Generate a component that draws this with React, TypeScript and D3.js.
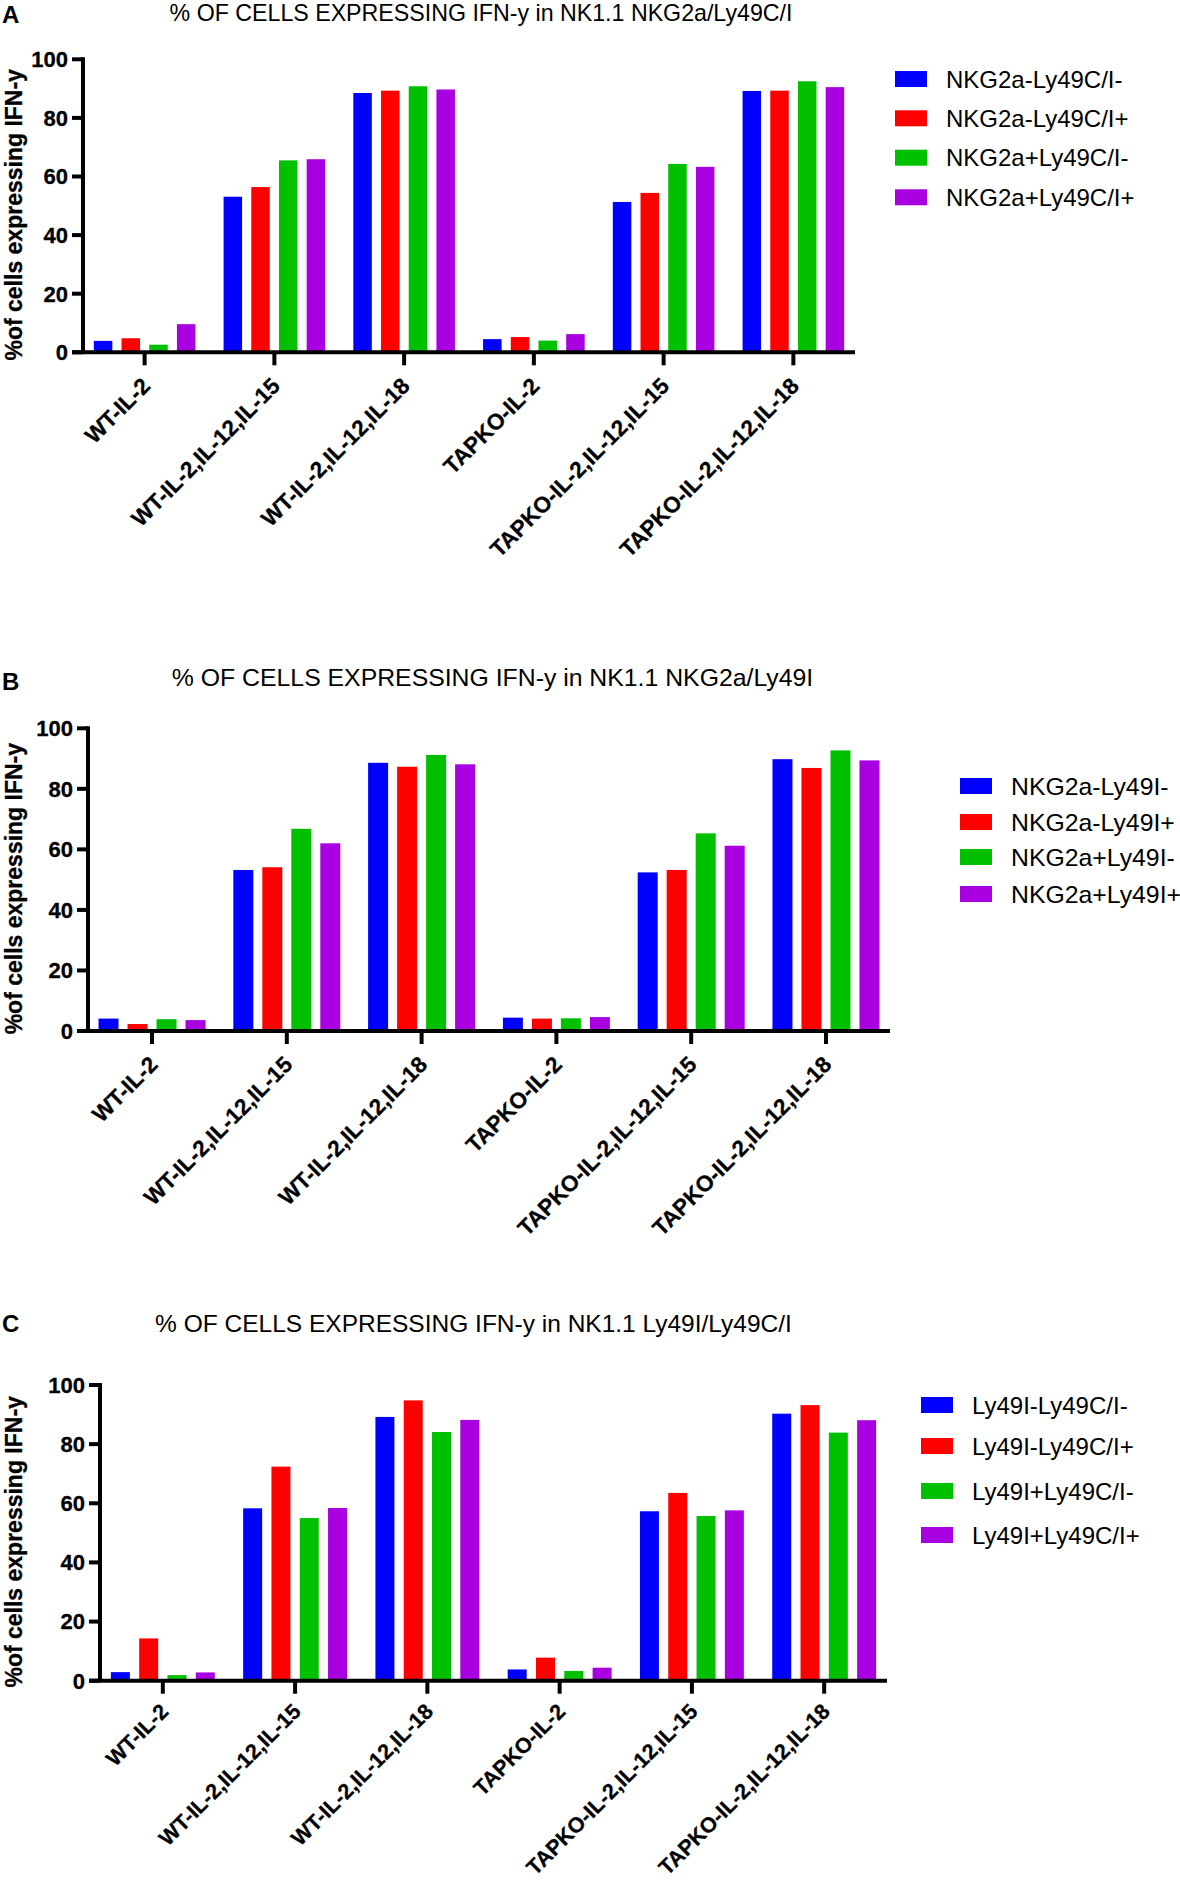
import * as d3 from 'd3';

const groups = [
    'WT-IL-2',
    'WT-IL-2,IL-12,IL-15',
    'WT-IL-2,IL-12,IL-18',
    'TAPKO-IL-2',
    'TAPKO-IL-2,IL-12,IL-15',
    'TAPKO-IL-2,IL-12,IL-18',
];
const yTicks = [0, 20, 40, 60, 80, 100];
const colors = ['#0000FF', '#FF0000', '#00C000', '#A800E0'];

// panel A
const namesA = ['NKG2a-Ly49C/I-', 'NKG2a-Ly49C/I+', 'NKG2a+Ly49C/I-', 'NKG2a+Ly49C/I+'];
const valuesA = [
    [3.9, 53.1, 88.5, 4.5, 51.3, 89.2],
    [4.8, 56.4, 89.3, 5.2, 54.4, 89.3],
    [2.6, 65.5, 90.8, 4.0, 64.3, 92.5],
    [9.6, 65.9, 89.7, 6.2, 63.3, 90.5],
];

// panel B
const namesB = ['NKG2a-Ly49I-', 'NKG2a-Ly49I+', 'NKG2a+Ly49I-', 'NKG2a+Ly49I+'];
const valuesB = [
    [4.1, 53.2, 88.6, 4.4, 52.4, 89.8],
    [2.3, 54.1, 87.3, 4.1, 53.2, 86.9],
    [3.9, 66.8, 91.2, 4.2, 65.3, 92.7],
    [3.6, 62.0, 88.1, 4.6, 61.2, 89.4],
];

// panel C
const namesC = ['Ly49I-Ly49C/I-', 'Ly49I-Ly49C/I+', 'Ly49I+Ly49C/I-', 'Ly49I+Ly49C/I+'];
const valuesC = [
    [2.9, 58.3, 89.2, 3.8, 57.3, 90.3],
    [14.3, 72.4, 94.8, 7.8, 63.5, 93.2],
    [1.9, 55.0, 84.1, 3.3, 55.7, 83.9],
    [2.8, 58.4, 88.2, 4.4, 57.6, 88.1],
];

const FONT = '"Liberation Sans", Arial, Helvetica, sans-serif';

function Panel({ letter, title, names, values, layout }) {
    const {
        left, right, top, bottom, barStep, barWidth,
        titleX, titleY, titleSize, letterY, legendX, legendRows, legendSize,
        labelSize, labelDy,
    } = layout;

    const y = d3.scaleLinear().domain([0, 100]).range([bottom, top]);
    const x = d3.scalePoint().domain(groups).range([left, right]).padding(0.475);
    const span = 3 * barStep + barWidth;
    const sub = d3
        .scaleBand()
        .domain(names)
        .range([-span / 2, span / 2])
        .paddingInner((barStep - barWidth) / barStep)
        .paddingOuter(0);

    return (
        <g>
            <text x={2} y={letterY} fontSize={24} fontWeight="bold" fontFamily={FONT}>{letter}</text>
            <text x={titleX} y={titleY} fontSize={titleSize} textAnchor="middle" fontFamily={FONT}>{title}</text>

            {names.map((n, s) =>
                groups.map((g, i) => (
                    <rect
                        key={n + g}
                        x={x(g) + sub(n)}
                        y={y(values[s][i])}
                        width={sub.bandwidth()}
                        height={y(0) - y(values[s][i])}
                        fill={colors[s]}
                    />
                ))
            )}

            {/* y axis */}
            <line x1={left} x2={left} y1={top - 2} y2={bottom} stroke="#000" strokeWidth={4} />
            {yTicks.map((t) => (
                <g key={t}>
                    <line x1={left - 11} x2={left} y1={y(t)} y2={y(t)} stroke="#000" strokeWidth={4} />
                    <text
                        x={left - 15}
                        y={y(t)}
                        dy="0.36em"
                        textAnchor="end"
                        fontSize={22}
                        fontWeight="bold"
                        fontFamily={FONT}
                        stroke="#000"
                        strokeWidth={0.3}
                    >
                        {t}
                    </text>
                </g>
            ))}
            <text
                transform={`translate(22, ${(top + bottom) / 2 + 9}) rotate(-90)`}
                textAnchor="middle"
                fontSize={23}
                fontWeight="bold"
                fontFamily={FONT}
                stroke="#000"
                strokeWidth={0.3}
            >
                %of cells expressing IFN-y
            </text>

            {/* x axis */}
            <line x1={left - 11} x2={right} y1={bottom} y2={bottom} stroke="#000" strokeWidth={4} />
            {groups.map((g) => (
                <g key={g}>
                    <line x1={x(g)} x2={x(g)} y1={bottom} y2={bottom + 13} stroke="#000" strokeWidth={4} />
                    <text
                        transform={`translate(${x(g) + 7}, ${bottom + labelDy}) rotate(-45)`}
                        textAnchor="end"
                        fontSize={labelSize}
                        fontWeight="bold"
                        fontFamily={FONT}
                        stroke="#000"
                        strokeWidth={0.3}
                    >
                        {g}
                    </text>
                </g>
            ))}

            {/* legend */}
            {names.map((n, s) => (
                <g key={n}>
                    <rect x={legendX} y={legendRows[s] - 8} width={32} height={16} fill={colors[s]} />
                    <text x={legendX + 51} y={legendRows[s] + 8.5} fontSize={legendSize} fontFamily={FONT}>{n}</text>
                </g>
            ))}
        </g>
    );
}

const layoutA = {
    left: 83, right: 855, top: 59.3, bottom: 352.3, barStep: 27.7, barWidth: 18.5,
    titleX: 481, titleY: 21, titleSize: 23.2, letterY: 23,
    legendX: 895, legendRows: [79, 118.3, 157.7, 197.3], legendSize: 24,
    labelSize: 22.5, labelDy: 35,
};
const layoutB = {
    left: 88, right: 890, top: 728.3, bottom: 1031, barStep: 29, barWidth: 20,
    titleX: 492.5, titleY: 686, titleSize: 24.8, letterY: 690,
    legendX: 960, legendRows: [786, 822, 857, 894], legendSize: 24.8,
    labelSize: 22.5, labelDy: 35,
};
const layoutC = {
    left: 100, right: 887, top: 1385, bottom: 1680.7, barStep: 28.3, barWidth: 19,
    titleX: 473.5, titleY: 1332, titleSize: 24.5, letterY: 1332,
    legendX: 921, legendRows: [1405, 1446, 1491, 1535], legendSize: 24,
    labelSize: 21.5, labelDy: 32,
};

export default function App() {
    return (
        <svg
            width={1180}
            height={1882}
            style={{ position: 'absolute', left: 0, top: 0, background: '#fff' }}
        >
            <Panel letter="A" title="% OF CELLS EXPRESSING IFN-y in NK1.1 NKG2a/Ly49C/I" names={namesA} values={valuesA} layout={layoutA} />
            <Panel letter="B" title="% OF CELLS EXPRESSING IFN-y in NK1.1 NKG2a/Ly49I" names={namesB} values={valuesB} layout={layoutB} />
            <Panel letter="C" title="% OF CELLS EXPRESSING IFN-y in NK1.1 Ly49I/Ly49C/I" names={namesC} values={valuesC} layout={layoutC} />
        </svg>
    );
}
